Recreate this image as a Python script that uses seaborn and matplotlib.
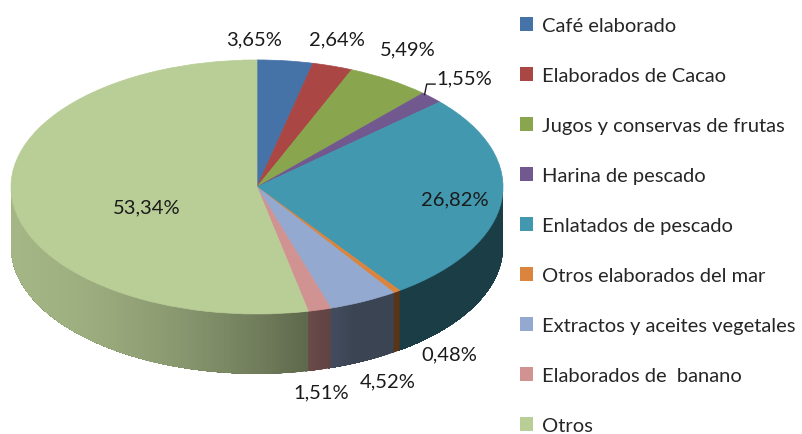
import numpy as np
import matplotlib
matplotlib.use("Agg")
import matplotlib.pyplot as plt
from matplotlib.patches import Patch, Polygon
from matplotlib.colors import to_rgb
import seaborn as sns

# datos del gráfico
categorias = ["Café elaborado", "Elaborados de Cacao", "Jugos y conservas de frutas",
              "Harina de pescado", "Enlatados de pescado", "Otros elaborados del mar",
              "Extractos y aceites vegetales", "Elaborados de  banano", "Otros"]
porcentajes = [3.65, 2.64, 5.49, 1.55, 26.82, 0.48, 4.52, 1.51, 53.34]
colores = ["#4572A7", "#AA4643", "#89A54E", "#71588F", "#4198AF",
           "#DB843D", "#93A9CF", "#D19392", "#B9CD96"]

# posiciones de las etiquetas (unidades del círculo unitario)
pos_etiquetas = [(-0.01, 1.165), (0.325, 1.165), (0.614, 1.087), (0.841, 0.858),
                 (0.805, -0.094), (0.780, -1.315), (0.533, -1.528), (0.260, -1.614),
                 (-0.447, -0.157)]

sns.set_theme(style="white")
plt.rcParams["font.family"] = ["Lato", "DejaVu Sans"]

W, H = 802, 435
fig = plt.figure(figsize=(W / 100, H / 100), dpi=100)
ax = fig.add_axes([11 / W, 1 - 400 / H, 492 / W, 360 / H])

profundidad = 0.47


def sombra(x):
    f = 0.89 - 0.1 * (x + 1) - 0.18 * (x + 1) ** 2
    return np.clip(f, 0.4, 0.9)


def lateral(t0, t1):
    # banda lateral entre los ángulos t0 > t1 (grados)
    t = np.radians(np.linspace(t0, t1, max(2, int(abs(t0 - t1) * 2) + 2)))
    arriba = np.column_stack([np.cos(t), np.sin(t)])
    abajo = arriba[::-1] - [0, profundidad]
    return np.vstack([arriba, abajo])


# lateral del pastel (solo la mitad frontal), con degradado horizontal
fracs = np.array(porcentajes) / np.sum(porcentajes)
bordes = 90 - 360 * np.concatenate([[0], np.cumsum(fracs)])
paso = 0.5
for i, c in enumerate(colores):
    hi = min(bordes[i], 0.0)
    lo = max(bordes[i + 1] - 0.6, -180.0)
    if hi <= lo:
        continue
    base = np.array(to_rgb(c))
    for t0 in np.arange(hi, lo, -paso):
        x = np.cos(np.radians(t0 - paso / 2))
        ax.add_patch(Polygon(lateral(t0, lo), closed=True, facecolor=base * sombra(x),
                             edgecolor="none", linewidth=0, zorder=0.5))

# cara superior
wedges, _ = ax.pie(porcentajes, colors=colores, startangle=90, counterclock=False,
                   radius=1, wedgeprops=dict(linewidth=0.5))
for w in wedges:
    w.set_edgecolor(w.get_facecolor())
    w.set_zorder(1)

ax.set_aspect("auto")
ax.set_xlim(-1, 1)
ax.set_ylim(-1.669, 1.165)
ax.axis("off")

# etiquetas de porcentaje
for p, (u, v) in zip(porcentajes, pos_etiquetas):
    ax.text(u, v, f"{p:.2f}%".replace(".", ","), ha="center", va="center",
            fontsize=14.5, color="#1a1a1a", clip_on=False, zorder=5)

# línea guía para Harina de pescado
ang = np.radians((bordes[3] + bordes[4]) / 2)
ax.plot([np.cos(ang) * 0.96, 0.69, 0.725], [np.sin(ang) * 0.96 + 0.05, 0.81, 0.81],
        color="#1a1a1a", lw=1.0, clip_on=False, zorder=5)

# leyenda
handles = [Patch(facecolor=c, edgecolor="none") for c in colores]
fig.legend(handles, categorias, loc="upper left", bbox_to_anchor=(520 / W, 1 - 18 / H),
           frameon=False, fontsize=14.5, handlelength=0.65, handleheight=0.65,
           handletextpad=0.45, labelspacing=1.64, borderaxespad=0, borderpad=0)

fig.savefig("out.png", dpi=100)
